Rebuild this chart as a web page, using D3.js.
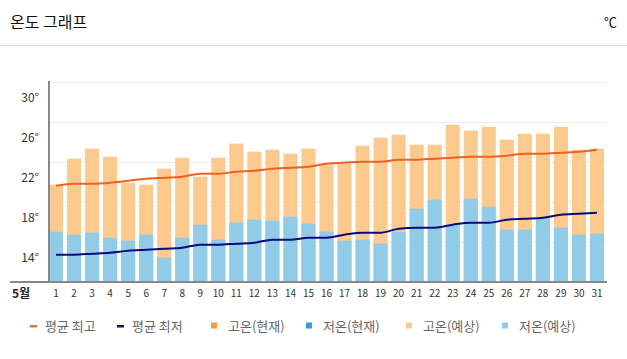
<!DOCTYPE html>
<html><head><meta charset="utf-8">
<script src="https://cdn.jsdelivr.net/npm/d3@7"></script>
<style>
body{margin:0;background:#fff;}
text{font-family:"Noto Sans CJK KR","Noto Sans",sans-serif;}
</style></head>
<body><svg id="c" width="627" height="359"></svg>
<script>
const days = d3.range(1, 32).map(String);
const highBars = [21.7,24.3,25.3,24.5,21.9,21.7,23.3,24.4,22.5,24.4,25.8,25.0,25.2,24.8,25.3,23.7,23.8,25.6,26.4,26.7,25.7,25.7,27.7,27.1,27.5,26.2,26.8,26.8,27.5,25.2,25.3];
const lowBars = [17.0,16.7,16.9,16.4,16.1,16.7,14.4,16.4,17.7,16.2,17.9,18.2,18.1,18.5,17.8,17.0,16.1,16.2,15.8,17.0,19.3,20.2,17.7,20.3,19.5,17.2,17.2,18.3,17.4,16.7,16.8];
const avgHigh = [21.6,21.8,21.8,21.9,22.1,22.3,22.4,22.5,22.8,22.8,23.0,23.1,23.3,23.4,23.5,23.8,23.9,24.0,24.0,24.2,24.2,24.3,24.4,24.5,24.5,24.6,24.8,24.8,24.9,25.0,25.2];
const avgLow = [14.7,14.7,14.8,14.9,15.1,15.2,15.3,15.4,15.7,15.7,15.8,15.9,16.2,16.2,16.4,16.4,16.7,16.9,16.9,17.3,17.4,17.4,17.7,17.9,17.9,18.2,18.3,18.4,18.7,18.8,18.9];
const yTickLabels = [14, 18, 22, 26, 30];
const gridValues = [16, 20, 24, 28, 32];
const legendItems = [
  {label:"평균 최고", type:"line", color:"#e8703a"},
  {label:"평균 최저", type:"line", color:"#10106e"},
  {label:"고온(현재)", type:"rect", color:"#f7993f"},
  {label:"저온(현재)", type:"rect", color:"#3a9ad6"},
  {label:"고온(예상)", type:"rect", color:"#fcc98f"},
  {label:"저온(예상)", type:"rect", color:"#90cbe8"}
];
const legendX = [27, 114, 211, 306, 406, 502];

const svg = d3.select("#c");
// header
svg.append("text").attr("x",10).attr("y",28).attr("font-size",16).attr("fill","#111").text("온도 그래프");
svg.append("text").attr("x",617).attr("y",27).attr("font-size",13).attr("fill","#111").attr("text-anchor","end").text("℃");
svg.append("line").attr("x1",0).attr("x2",627).attr("y1",45.5).attr("y2",45.5).attr("stroke","#e2e2e2");

const x = d3.scaleBand().domain(days).range([49, 604]).paddingInner(0.22).paddingOuter(0);
const y = d3.scaleLinear().domain([12, 32]).range([281.7, 81.7]);

// grid
svg.append("g").selectAll("line").data(gridValues).join("line")
  .attr("x1",49).attr("x2",607).attr("y1",d=>Math.round(y(d))+0.5).attr("y2",d=>Math.round(y(d))+0.5)
  .attr("stroke","#ececec");

// y labels
svg.append("g").selectAll("text").data(yTickLabels).join("text")
  .attr("x",39).attr("y",d=>y(d)).attr("text-anchor","end").attr("font-size",12).attr("fill","#333")
  .text(d=>d+"°");

// bars
svg.append("g").selectAll("rect").data(days).join("rect")
  .attr("x",d=>x(d)).attr("width",x.bandwidth())
  .attr("y",(d,i)=>y(highBars[i])).attr("height",(d,i)=>y(12)-y(highBars[i]))
  .attr("fill","#fcc98f");
svg.append("g").selectAll("rect").data(days).join("rect")
  .attr("x",d=>x(d)).attr("width",x.bandwidth())
  .attr("y",(d,i)=>y(lowBars[i])).attr("height",(d,i)=>y(12)-y(lowBars[i]))
  .attr("fill","#90cbe8");

// lines
const line = d3.line().x((d,i)=>x(days[i])+x.bandwidth()/2).y(d=>y(d)).curve(d3.curveMonotoneX);
svg.append("path").datum(avgHigh).attr("d",line).attr("fill","none").attr("stroke","#ee6120").attr("stroke-width",2);
svg.append("path").datum(avgLow).attr("d",line).attr("fill","none").attr("stroke","#0a0a78").attr("stroke-width",2);

// axes
svg.append("line").attr("x1",49).attr("x2",49).attr("y1",81).attr("y2",282).attr("stroke","#888").attr("stroke-width",2);
svg.append("line").attr("x1",10).attr("x2",607).attr("y1",282).attr("y2",282).attr("stroke","#888").attr("stroke-width",2);

// x labels
svg.append("g").selectAll("text").data(days).join("text")
  .attr("x",d=>x(d)+x.bandwidth()/2).attr("y",297).attr("text-anchor","middle").attr("font-size",10).attr("fill","#333")
  .text(d=>d);
svg.append("text").attr("x",12).attr("y",298).attr("font-size",12).attr("fill","#222").attr("font-weight","bold").text("5월");

// legend
const lg = svg.append("g").selectAll("g").data(legendItems).join("g")
  .attr("transform",(d,i)=>`translate(${legendX[i]},326)`);
lg.each(function(d){
  const g = d3.select(this);
  if(d.type==="line") g.append("rect").attr("x",3).attr("y",-1).attr("width",7).attr("height",2.5).attr("fill",d.color);
  else g.append("rect").attr("x",0).attr("y",-3.5).attr("width",6).attr("height",6).attr("fill",d.color);
  g.append("text").attr("x",d.type==="line"?18:17).attr("y",5).attr("font-size",13).attr("fill","#666").text(d.label);
});
</script></body></html>
